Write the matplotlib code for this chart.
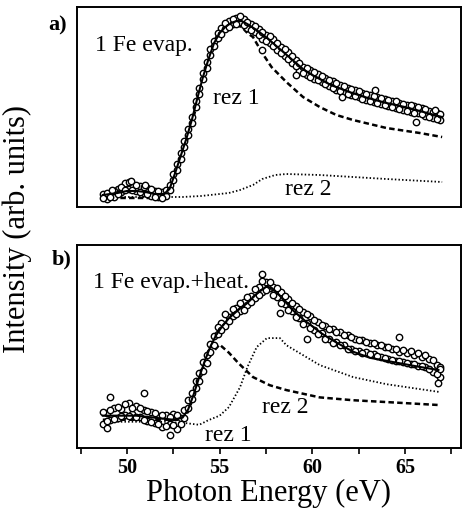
import numpy as np
import matplotlib
matplotlib.use("Agg")
import matplotlib.pyplot as plt

plt.rcParams['font.family'] = ['Liberation Serif', 'DejaVu Serif']

# ---------------------------------------------------------------
# data (arbitrary intensity units)
# ---------------------------------------------------------------
energy = [48.7, 48.9, 49.1, 49.3, 49.5, 49.7, 49.9, 50.1, 50.3, 50.5,
          50.7, 50.9, 51.1, 51.3, 51.5, 51.7, 51.9, 52.1, 52.3, 52.5,
          52.7, 52.9, 53.1, 53.3, 53.5, 53.7, 53.9, 54.1, 54.3, 54.5,
          54.7, 54.9, 55.1, 55.3, 55.5, 55.7, 55.9, 56.1, 56.3, 56.5,
          56.7, 56.9, 57.1, 57.3, 57.5, 57.7, 57.9, 58.1, 58.3, 58.5,
          58.7, 58.9, 59.1, 59.3, 59.5, 59.7, 59.9, 60.1, 60.3, 60.5,
          60.7, 60.9, 61.1, 61.3, 61.5, 61.7, 61.9, 62.1, 62.3, 62.5,
          62.7, 62.9, 63.1, 63.3, 63.5, 63.7, 63.9, 64.1, 64.3, 64.5,
          64.7, 64.9, 65.1, 65.3, 65.5, 65.7, 65.9, 66.1, 66.3, 66.5,
          66.7, 66.9]

# a) 1 Fe evap. -- two scans
int_a = [6.5, 4, 7, 5, 9, 7.5, 12, 9, 11.5, 8,
         10.5, 7, 9.5, 5.5, 8, 5, 7.5, 5.5, 11, 13.5,
         21.5, 24, 33, 36, 45, 50, 59.5, 64, 72.5, 76,
         83, 84.5, 89.5, 89, 93, 91.5, 94.5, 92.5, 94, 89.5,
         91.5, 87.5, 89, 84, 86, 82, 84, 78.5, 80, 75.5,
         77.5, 72, 73.5, 68, 70, 66, 68.5, 64, 66.5, 62.5,
         64.5, 60.5, 63, 58.5, 61, 57, 59.5, 56, 58.5, 55,
         57, 53.5, 56, 52.5, 55, 51.5, 54, 50.5, 53, 49.5,
         52, 48.5, 51, 47.5, 50.5, 47, 49.5, 45.5, 48, 44.5,
         47, 43.5]
int_a2 = [4.5, 7, 5, 8, 6.5, 10, 8.5, 12.5, 8.5, 11,
          7.5, 10, 6.5, 9, 5, 8, 4.5, 8.5, 8.5, 16.5,
          18.5, 27, 30, 39, 42, 53, 56.5, 67, 69.5, 79,
          80.5, 87, 86.5, 92, 90, 94, 91.5, 95.5, 91, 92.5,
          88.5, 90.5, 86, 87.5, 83, 85.5, 80.5, 82, 77, 79,
          74, 75.5, 70.5, 72, 67, 69.5, 65, 67.5, 63.5, 65.5,
          61.5, 63.5, 59.5, 62, 58, 60.5, 56.5, 59, 55.5, 58,
          54, 56.5, 53, 55.5, 52, 54.5, 51, 53.5, 50, 53,
          49, 51.5, 48, 51, 47, 50, 46.5, 49, 45, 47.5,
          44, 46.5]
extra_e_a = [49.2, 50.2, 51.0, 57.3, 59.1, 61.6, 63.4, 65.6, 66.6]
extra_i_a = [8.5, 13, 11, 78.5, 66, 55, 58.5, 42.5, 48.5]

fit_e_a = [48.7, 49.5, 50.0, 50.5, 51.0, 51.5, 52.0, 52.3, 52.6, 52.9,
           53.2, 53.5, 53.8, 54.1, 54.4, 54.7, 55.0, 55.3, 55.6, 55.9,
           56.2, 56.5, 57.0, 57.5, 58.0, 58.5, 59.0, 59.5, 60.0, 61.0,
           62.0, 63.0, 64.0, 65.0, 66.0, 67.0]
fit_a = [6, 7, 8, 8, 7.5, 6.5, 6.5, 9, 17, 25.5,
         34, 43.5, 54.5, 65, 74, 82, 87, 90, 92, 93,
         93, 91.5, 88.5, 85, 81, 77, 73, 69, 66, 61,
         57.5, 54.5, 52, 50, 47.5, 45]

rez1_e_a = [48.7, 50.0, 51.0, 52.0, 52.3, 52.6, 52.9, 53.2, 53.5, 53.8,
            54.1, 54.4, 54.7, 55.0, 55.3, 55.6, 55.9, 56.2, 56.5, 56.8,
            57.3, 57.8, 58.6, 59.5, 60.4, 61.3, 62.2, 64.0, 65.8, 67.0]
rez1_a = [4.5, 4.5, 4.5, 4.5, 7, 15, 23.5, 32, 41.5, 52.5,
          63, 72, 80, 85, 88.5, 90.5, 91, 90, 87, 85,
          77, 70, 62.5, 55, 50, 46, 43.5, 39.5, 37, 35]

rez2_e_a = [48.7, 52.0, 53.0, 54.0, 55.0, 55.5, 56.1, 56.8, 57.3, 58.0,
            58.6, 60.4, 62.2, 64.0, 67.0]
rez2_a = [5, 5, 5, 5.5, 6.5, 7, 8.5, 11, 14, 16,
          16.5, 16, 15, 14, 12.5]

# b) 1 Fe evap.+heat. -- two scans
int_b = [12, 17.5, 14, 20, 15, 19.5, 16.5, 22, 17, 21,
         15.5, 19, 13.5, 18, 12.5, 16, 10.5, 16.5, 12, 17,
         9.5, 15, 19, 20, 27, 29.5, 37, 38, 46, 47.5,
         55, 56, 61.5, 60, 64.5, 65, 69, 67.5, 72, 70.5,
         75, 74, 79.5, 77, 82, 79, 79.5, 74.5, 77, 71,
         73.5, 67.5, 70, 64, 67, 61.5, 65, 58, 62, 56.5,
         60, 54, 58.5, 52.5, 57, 51, 55.5, 49, 54, 48,
         53.5, 47.5, 52, 46.5, 51, 45, 50, 44, 49, 43,
         47.5, 42.5, 47, 41.5, 46, 40.5, 45, 40, 44, 37.5,
         41, 35]
int_b2 = [18, 13.5, 19, 14.5, 20.5, 16, 21.5, 16, 20, 15.5,
          20, 14, 18.5, 13, 17.5, 12, 16.5, 11, 15.5, 11.5,
          16.5, 12, 15, 23.5, 24, 33, 33, 42.5, 42, 51.5,
          51, 59.5, 58, 66, 62.5, 68.5, 66, 71.5, 68, 74.5,
          72, 78.5, 75.5, 82.5, 78, 82, 75.5, 79, 71.5, 75,
          68, 71.5, 64.5, 68.5, 61, 66, 59, 63, 56, 60.5,
          54, 58.5, 52, 57, 51, 55.5, 49, 54.5, 48, 53.5,
          47, 52.5, 46.5, 52, 45.5, 51, 44.5, 50, 43.5, 49,
          43, 48.5, 42, 48, 41.5, 47, 40.5, 46, 39, 43.5,
          36.5, 40]
extra_e_b = [48.9, 49.1, 50.9, 52.3, 57.3, 58.25, 59.7, 64.7, 66.8, 66.9]
extra_i_b = [10, 25, 27, 6.5, 86, 66.5, 54, 54.5, 32, 39]

fit_e_b = [48.7, 49.5, 50.5, 51.5, 52.5, 53.0, 53.3, 53.6, 53.9, 54.2,
           54.5, 54.8, 55.1, 55.5, 56.0, 56.5, 57.0, 57.5, 57.8, 58.2,
           58.6, 59.0, 59.5, 60.0, 60.5, 61.3, 62.2, 63.1, 64.0, 64.9,
           65.8, 66.8]
fit_b = [16, 16, 16, 15, 14, 15, 19, 26.5, 35, 43,
         50, 55.5, 59.5, 64, 68, 71.5, 76, 79.5, 79, 75.5,
         71.5, 67.5, 63.5, 60, 56.5, 52, 47.5, 44.5, 43, 41.5,
         40, 38.5]

rez1_e_b = [48.7, 51.0, 53.0, 53.3, 53.6, 53.9, 54.2, 54.6, 55.0, 55.5,
            56.0, 56.4, 56.8, 57.7, 58.6, 60.4, 62.2, 64.0, 66.9]
rez1_b = [14, 14, 14, 18, 25.5, 33.5, 41, 47, 51, 47,
          42, 38.5, 35, 31, 28.6, 25, 23.6, 22.7, 21.2]

rez2_e_b = [48.7, 52.0, 53.2, 53.9, 54.4, 55.0, 55.5, 56.1, 56.5, 57.0,
            57.55, 58.25, 58.6, 59.5, 60.4, 62.2, 64.0, 66.9]
rez2_b = [13, 13, 12.3, 11.5, 13.8, 16, 20.2, 30, 40, 49.8,
          54.2, 54.2, 50.7, 45.8, 40.9, 35, 31.5, 27.6]

xticks = [50, 55, 60, 65]

# ---------------------------------------------------------------
fig = plt.figure(figsize=(4.63, 5.26), dpi=100)
ax_a = fig.add_axes([0.166, 0.6065, 0.829, 0.380])
ax_b = fig.add_axes([0.166, 0.148, 0.829, 0.386])

panels = [
    (ax_a, [int_a, int_a2], extra_e_a, extra_i_a, fit_e_a, fit_a,
     rez1_e_a, rez1_a, rez2_e_a, rez2_a),
    (ax_b, [int_b, int_b2], extra_e_b, extra_i_b, fit_e_b, fit_b,
     rez1_e_b, rez1_b, rez2_e_b, rez2_b),
]

circ = dict(ls='none', marker='o', ms=4.6, mfc='white', mec='black',
            mew=1.0, zorder=3)

for ax, scans, ex, ey, fx, fy, r1x, r1y, r2x, r2y in panels:
    ax.plot(r2x, r2y, color='black', lw=1.3, ls=(0, (0.8, 1.2)),
            zorder=2)
    ax.plot(r1x, r1y, color='black', lw=1.8, ls=(0, (2.2, 1.3)),
            zorder=2)
    for yi in scans:
        ax.plot(energy, yi, **circ)
    ax.plot(ex, ey, **circ)
    ax.plot(fx, fy, color='black', lw=1.5, zorder=4)
    ax.set_xlim(47.3, 68.0)
    ax.set_ylim(0, 100)
    ax.set_yticks([])
    for s in ax.spines.values():
        s.set_linewidth(1.4)

ax_a.set_xticks([])
ax_b.set_xticks(xticks)
ax_b.set_xticks([47.5, 52.5, 57.5, 62.5, 67.5], minor=True)
ax_b.tick_params(axis='x', which='both', direction='out', length=4,
                 width=1.2, pad=3)
for lbl in ax_b.get_xticklabels():
    lbl.set_fontsize(14.5)
    lbl.set_fontweight('bold')

# panel texts
ax_a.text(0.047, 0.81, '1 Fe evap.', transform=ax_a.transAxes,
          fontsize=17, va='center', ha='left')
ax_a.text(0.354, 0.545, 'rez 1', transform=ax_a.transAxes,
          fontsize=17, va='center', ha='left')
ax_a.text(0.542, 0.085, 'rez 2', transform=ax_a.transAxes,
          fontsize=17, va='center', ha='left')
ax_b.text(0.042, 0.818, '1 Fe evap.+heat.', transform=ax_b.transAxes,
          fontsize=17, va='center', ha='left')
ax_b.text(0.482, 0.2, 'rez 2', transform=ax_b.transAxes,
          fontsize=17, va='center', ha='left')
ax_b.text(0.333, 0.06, 'rez 1', transform=ax_b.transAxes,
          fontsize=17, va='center', ha='left')

fig.text(0.125, 0.951, 'a)', fontsize=16, fontweight='bold',
         ha='center', va='center')
fig.text(0.134, 0.507, 'b)', fontsize=16, fontweight='bold',
         ha='center', va='center')

fig.text(0.037, 0.565, 'Intensity (arb. units)', rotation=90,
         fontsize=22, ha='center', va='center')
ax_b.set_xlabel('Photon Energy (eV)', fontsize=22, labelpad=1)

fig.savefig('out.png', dpi=100)
